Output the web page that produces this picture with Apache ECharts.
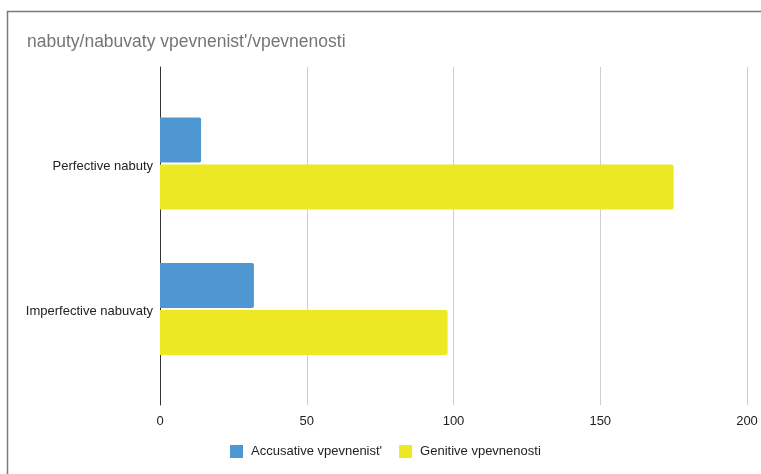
<!DOCTYPE html>
<html>
<head>
<meta charset="utf-8">
<style>
  html, body { margin: 0; padding: 0; background: #fff; }
  #chart { width: 761px; height: 474px; }
</style>
<script src="https://cdn.jsdelivr.net/npm/echarts@6/dist/echarts.min.js"></script>
</head>
<body>
<div id="chart"></div>
<script>
// Chart data
const titleText = "nabuty/nabuvaty vpevnenist'/vpevnenosti";
const categories = ['Perfective nabuty', 'Imperfective nabuvaty'];
const seriesNames = ["Accusative vpevnenist'", 'Genitive vpevnenosti'];
const accusativeValues = [14, 32];
const genitiveValues = [175, 98];
const xTicks = [0, 50, 100, 150, 200];

const FONT = '"Liberation Sans", Arial, Helvetica, sans-serif';
const BLUE = '#4E97D2';
const YELLOW = '#ECE824';

const chart = echarts.init(document.getElementById('chart'), null, { renderer: 'canvas' });

chart.setOption({
  backgroundColor: '#fff',
  animation: false,
  textStyle: { fontFamily: FONT },
  title: {
    text: titleText,
    left: 22,
    top: 28,
    textStyle: { fontFamily: FONT, fontSize: 17.5, fontWeight: 'normal', color: '#757575' }
  },
  legend: {
    data: seriesNames,
    left: 225,
    top: 440,
    icon: 'rect',
    itemWidth: 13,
    itemHeight: 13,
    itemGap: 17,
    textStyle: { fontFamily: FONT, fontSize: 13, color: '#222', padding: [0, 0, 0, 3] }
  },
  graphic: [{
    type: 'polyline',
    silent: true,
    shape: { points: [[7.5, 480], [7.5, 11.5], [770, 11.5]] },
    style: { stroke: '#7a7a7a', lineWidth: 1.5, fill: null }
  }],
  grid: [
    // bars
    { left: 160, right: 14, top: 90.75, bottom: 92.25 },
    // frame: gridlines, value labels, vertical axis line
    { left: 160, right: 14, top: 67, bottom: 69 }
  ],
  xAxis: [
    {
      gridIndex: 0, type: 'value', min: xTicks[0], max: xTicks[xTicks.length - 1], interval: 50,
      show: false
    },
    {
      gridIndex: 1, type: 'value', min: xTicks[0], max: xTicks[xTicks.length - 1], interval: 50,
      axisLine: { show: false },
      axisTick: { show: false },
      axisLabel: { margin: 10, fontFamily: FONT, fontSize: 13, color: '#222' },
      splitLine: { show: true, lineStyle: { color: '#cfcfcf', width: 1 } }
    }
  ],
  yAxis: [
    {
      gridIndex: 0, type: 'category', data: categories, inverse: true,
      axisLine: { show: false },
      axisTick: { show: false },
      axisLabel: {
        margin: 7,
        formatter: (v) => '{c|' + v + '}',
        rich: { c: { fontFamily: FONT, fontSize: 13, color: '#222', padding: [5, 0, 0, 0] } }
      },
      splitLine: { show: false }
    },
    {
      gridIndex: 1, type: 'value', min: 0, max: 1,
      axisLine: { show: true, onZero: false, lineStyle: { color: '#333', width: 1 } },
      axisTick: { show: false },
      axisLabel: { show: false },
      splitLine: { show: false }
    }
  ],
  series: [
    {
      name: seriesNames[0], type: 'bar', xAxisIndex: 0, yAxisIndex: 0,
      data: accusativeValues, barWidth: 45, barGap: '4%',
      itemStyle: { color: BLUE, borderRadius: [0, 2, 2, 0] }
    },
    {
      name: seriesNames[1], type: 'bar', xAxisIndex: 0, yAxisIndex: 0,
      data: genitiveValues, barWidth: 45, barGap: '4%',
      itemStyle: { color: YELLOW, borderRadius: [0, 2, 2, 0] }
    }
  ]
});
</script>
</body>
</html>
